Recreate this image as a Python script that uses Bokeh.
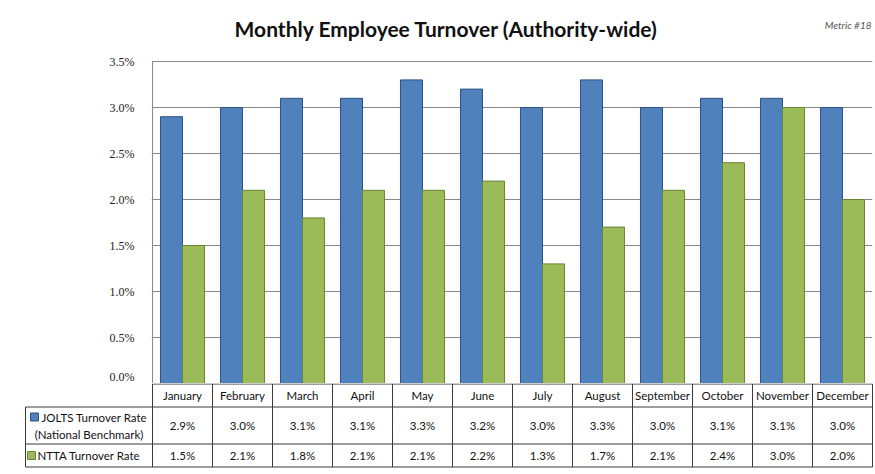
from bokeh.plotting import figure
from bokeh.models import Range1d, FixedTicker, PrintfTickFormatter
from bokeh.core.properties import value
from bokeh.embed import file_html
from bokeh.resources import INLINE

# ---- data ----
months = ["January", "February", "March", "April", "May", "June", "July",
          "August", "September", "October", "November", "December"]
jolts = [2.9, 3.0, 3.1, 3.1, 3.3, 3.2, 3.0, 3.3, 3.0, 3.1, 3.1, 3.0]
ntta = [1.5, 2.1, 1.8, 2.1, 2.1, 2.2, 1.3, 1.7, 2.1, 2.4, 3.0, 2.0]
y_ticks = [0.0, 0.5, 1.0, 1.5, 2.0, 2.5, 3.0, 3.5]
series_names = ["JOLTS Turnover Rate", "(National Benchmark)", "NTTA Turnover Rate"]
title_text = "Monthly Employee Turnover (Authority-wide)"
metric_text = "Metric #18"

BLUE, BLUE_EDGE = "#4F81BD", "#2F5282"
GREEN, GREEN_EDGE = "#9BBB59", "#6B8536"
GRID = "#888888"
TABLE_LINE = "#3a3a3a"
FONT = "Lato"
PX = 92.0  # pixels per 1% on the value axis

n = len(months)
bw = 0.367
idx = list(range(n))
xb = [i + 0.5 - bw / 2 for i in idx]
xg = [i + 0.5 + bw / 2 for i in idx]
ymax = y_ticks[-1]

# ---- chart ----
p = figure(width=875, height=383, output_backend="svg", toolbar_location=None,
           x_range=Range1d(-1 / 60, n), y_range=Range1d(0, ymax + 61 / PX),
           x_axis_location=None, min_border_left=151, min_border_right=3,
           min_border_top=0, min_border_bottom=0)
p.outline_line_color = None
p.background_fill_color = "white"
p.xgrid.visible = False
p.ygrid.grid_line_color = GRID
p.ygrid.ticker = FixedTicker(ticks=y_ticks)
p.yaxis.ticker = FixedTicker(ticks=y_ticks)
p.yaxis.formatter = PrintfTickFormatter(format="%.1f%%")
p.yaxis.major_label_text_font = "Liberation Serif"
p.yaxis.major_label_text_font_size = "12px"
p.yaxis.major_label_text_color = "#222222"
p.yaxis.axis_line_color = None
p.yaxis.major_tick_line_color = None
p.yaxis.minor_tick_line_color = None
p.yaxis.major_label_standoff = 11

# value axis line (only over the value span)
p.segment(x0=[0], x1=[0], y0=[0], y1=[ymax], line_color=GRID, line_width=1)

p.vbar(x=xb, top=jolts, width=bw, fill_color=BLUE, line_color=BLUE_EDGE)
p.vbar(x=xg, top=ntta, width=bw, fill_color=GREEN, line_color=GREEN_EDGE)

p.text(x=[(446 - 152) / 60], y=[ymax + 33 / PX], text=[title_text], text_align="center",
       text_baseline="middle", text_font=value(FONT), text_font_size="21px",
       text_font_style="bold", text_color="#111111")
p.text(x=[(871 - 152) / 60], y=[ymax + 37 / PX], text=[metric_text],
       text_align="right", text_baseline="middle", text_font=value(FONT),
       text_font_size="10px", text_font_style="italic", text_color="#555555")

# ---- data table ----
hdr = -127 / 60
t = figure(width=875, height=91, output_backend="svg", toolbar_location=None,
           x_range=Range1d((24 - 152) / 60, (874 - 152) / 60),
           y_range=Range1d(-7.5, 83.5), x_axis_location=None, y_axis_location=None,
           min_border_left=24, min_border_right=1, min_border_top=0,
           min_border_bottom=0)
t.outline_line_color = None
t.grid.visible = False

t.segment(x0=[0, hdr, hdr, hdr], x1=[n, n, n, n], y0=[83, 60, 23, 0], y1=[83, 60, 23, 0],
          line_color=TABLE_LINE, line_width=1)
t.segment(x0=[hdr] + list(range(n + 1)), x1=[hdr] + list(range(n + 1)),
          y0=[0] * (n + 2), y1=[60] + [83] * (n + 1), line_color=TABLE_LINE, line_width=1)

cx = [i + 0.5 for i in idx]
t.text(x=cx, y=[71.5] * n, text=months, text_align="center", text_baseline="middle",
       text_font=value(FONT), text_font_size="11.5px", text_color="#111111")
t.text(x=cx, y=[41.5] * n, text=[f"{v:.1f}%" for v in jolts], text_align="center",
       text_baseline="middle", text_font=value(FONT), text_font_size="11.5px",
       text_color="#111111")
t.text(x=cx, y=[11.5] * n, text=[f"{v:.1f}%" for v in ntta], text_align="center",
       text_baseline="middle", text_font=value(FONT), text_font_size="11.5px",
       text_color="#111111")

t.scatter(x=[(34 - 152) / 60], y=[50], marker="square", size=8,
          fill_color=BLUE, line_color=BLUE_EDGE)
t.scatter(x=[(31 - 152) / 60], y=[11.5], marker="square", size=8,
          fill_color=GREEN, line_color=GREEN_EDGE)
t.text(x=[(41 - 152) / 60], y=[50], text=[series_names[0]], text_align="left",
       text_baseline="middle", text_font=value(FONT), text_font_size="11.5px",
       text_color="#111111")
t.text(x=[(88.5 - 152) / 60], y=[33], text=[series_names[1]], text_align="center",
       text_baseline="middle", text_font=value(FONT), text_font_size="11.5px",
       text_color="#111111")
t.text(x=[(37 - 152) / 60], y=[11.5], text=[series_names[2]], text_align="left",
       text_baseline="middle", text_font=value(FONT), text_font_size="11.5px",
       text_color="#111111")

open("out.html", "w").write(file_html([p, t], INLINE))
